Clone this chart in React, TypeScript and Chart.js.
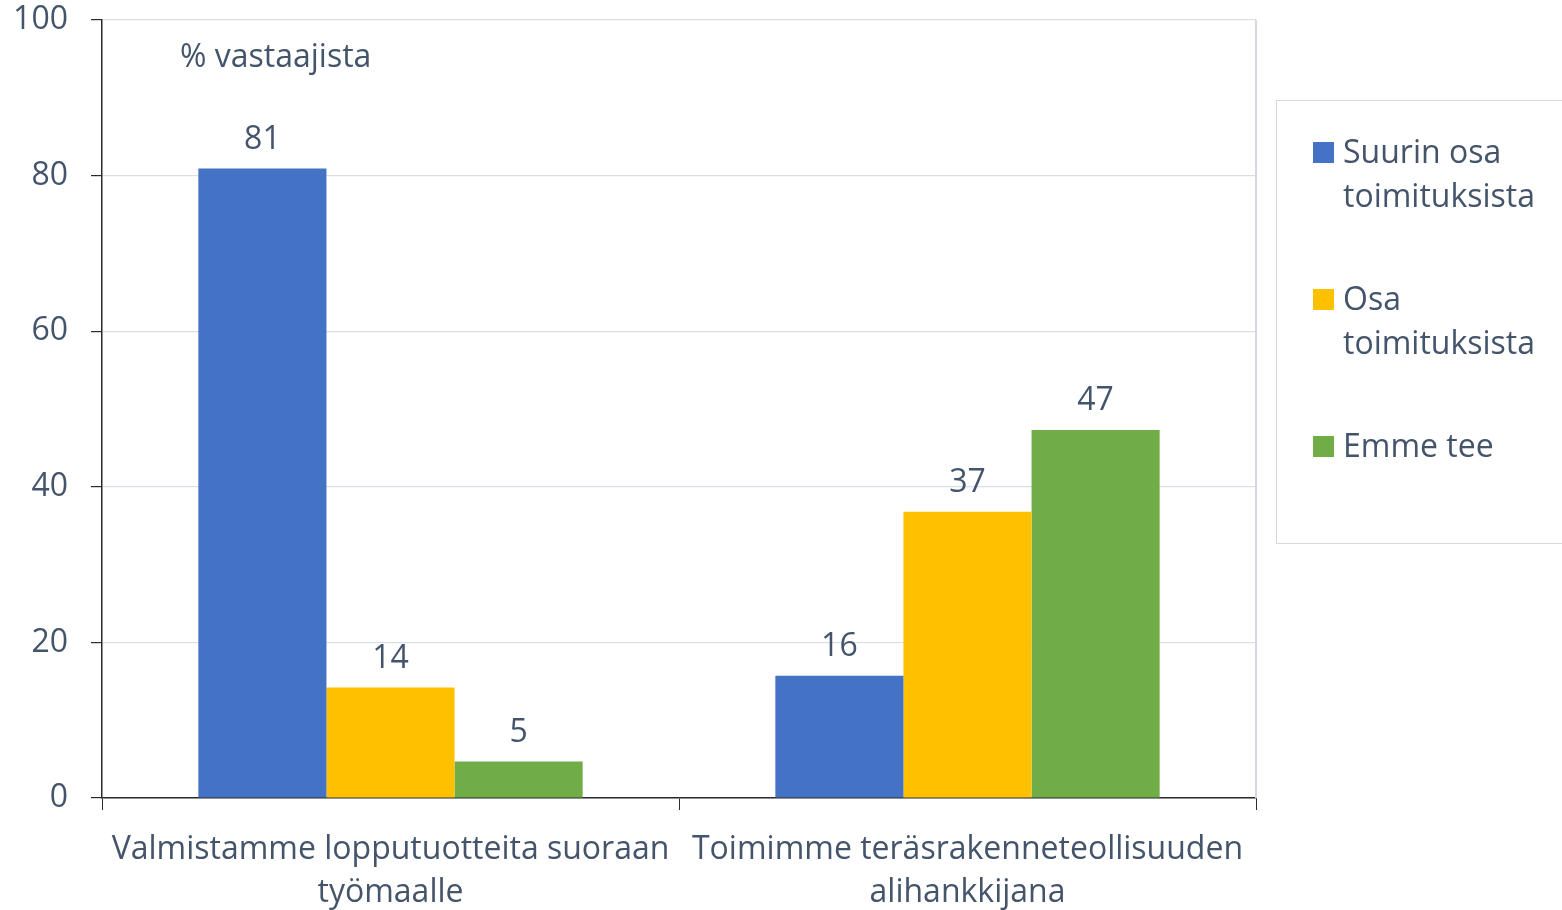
import React, { useEffect, useRef } from "react";
import { Chart, registerables } from "chart.js";

Chart.register(...registerables);

const categories: string[][] = [
  ["Valmistamme lopputuotteita suoraan", "työmaalle"],
  ["Toimimme teräsrakenneteollisuuden", "alihankkijana"],
];
const seriesNames: string[][] = [
  ["Suurin osa", "toimituksista"],
  ["Osa", "toimituksista"],
  ["Emme tee"],
];
const suurinOsa: number[] = [80.9, 15.7];
const osa: number[] = [14.2, 36.8];
const emmeTee: number[] = [4.7, 47.3];
const yTicks: number[] = [0, 20, 40, 60, 80, 100];
const unitLabel = "% vastaajista";

const colors = ["#4472C4", "#FFC000", "#70AD47"];
const textColor = "#44546A";
const axisColor = "#2b2b2b";
const gridColor = "#dadee6";
const FONT = "'Open Sans', sans-serif";

const overlayPlugin = {
  id: "overlay",
  afterDatasetsDraw(chart: any) {
    const { ctx, chartArea } = chart;
    ctx.save();
    // right border of plot area
    ctx.strokeStyle = "#d3d8e1";
    ctx.lineWidth = 2;
    ctx.beginPath();
    ctx.moveTo(chartArea.right, chartArea.top);
    ctx.lineTo(chartArea.right, chartArea.bottom);
    ctx.stroke();
    // data labels
    ctx.fillStyle = textColor;
    ctx.font = `32px ${FONT}`;
    ctx.textAlign = "center";
    ctx.textBaseline = "middle";
    chart.data.datasets.forEach((ds: any, di: number) => {
      const meta = chart.getDatasetMeta(di);
      meta.data.forEach((bar: any, i: number) => {
        ctx.fillText(String(Math.round(ds.data[i])), bar.x, bar.y - 29);
      });
    });
    // unit label
    ctx.textAlign = "left";
    ctx.fillText(unitLabel, chartArea.left + 78, chartArea.top + 38);
    ctx.restore();
  },
  afterDraw(chart: any) {
    const { ctx, chartArea } = chart;
    ctx.save();
    const bx = chartArea.right + 20;
    const by = 100;
    ctx.strokeStyle = "#d9d9d9";
    ctx.lineWidth = 1;
    ctx.strokeRect(bx + 0.5, by + 0.5, 320, 443);
    ctx.font = `32px ${FONT}`;
    ctx.textAlign = "left";
    ctx.textBaseline = "middle";
    const starts = [154, 301, 448];
    seriesNames.forEach((lines, i) => {
      const y0 = starts[i];
      ctx.fillStyle = colors[i];
      ctx.fillRect(bx + 37, y0 - 12, 21, 21);
      ctx.fillStyle = textColor;
      lines.forEach((ln, j) => {
        ctx.fillText(ln, bx + 67, y0 + j * 44);
      });
    });
    ctx.restore();
  },
};

export default function App() {
  const ref = useRef<HTMLCanvasElement>(null);
  useEffect(() => {
    document.body.style.margin = "0";
    const chart = new Chart(ref.current!, {
      type: "bar",
      data: {
        labels: categories,
        datasets: [
          { label: seriesNames[0].join(" "), data: suurinOsa, backgroundColor: colors[0] },
          { label: seriesNames[1].join(" "), data: osa, backgroundColor: colors[1] },
          { label: seriesNames[2].join(" "), data: emmeTee, backgroundColor: colors[2] },
        ],
      },
      options: {
        responsive: false,
        animation: false,
        layout: { padding: { top: 20, right: 306, left: 0, bottom: 0 } },
        datasets: { bar: { categoryPercentage: 0.666, barPercentage: 1 } },
        plugins: { legend: { display: false }, tooltip: { enabled: false } },
        scales: {
          x: {
            afterFit: (s: any) => { s.height = 112; s.paddingLeft = 0; s.paddingRight = 0; },
            grid: { display: true, drawOnChartArea: false, drawTicks: true, tickLength: 12, color: axisColor, offset: true },
            border: { display: true, color: axisColor, width: 1.5 },
            ticks: { color: textColor, font: { family: FONT, size: 32, lineHeight: 1.35 }, padding: 18, maxRotation: 0, autoSkip: false },
          },
          y: {
            min: 0,
            max: 100,
            afterFit: (s: any) => { s.width = 102; s.paddingTop = 0; s.paddingBottom = 0; },
            afterBuildTicks: (s: any) => { s.ticks = yTicks.map((v) => ({ value: v })); },
            grid: { color: gridColor, lineWidth: 1.2, tickColor: axisColor, tickLength: 11, drawTicks: true },
            border: { display: true, color: axisColor, width: 1.5 },
            ticks: { color: textColor, font: { family: FONT, size: 32 }, padding: 23 },
          },
        },
      },
      plugins: [overlayPlugin],
    });
    return () => chart.destroy();
  }, []);
  return (
    <div style={{ position: "absolute", left: 0, top: 0, width: 1562, height: 910, background: "#fff" }}>
      <canvas ref={ref} width={1562} height={910} style={{ display: "block" }} />
    </div>
  );
}
